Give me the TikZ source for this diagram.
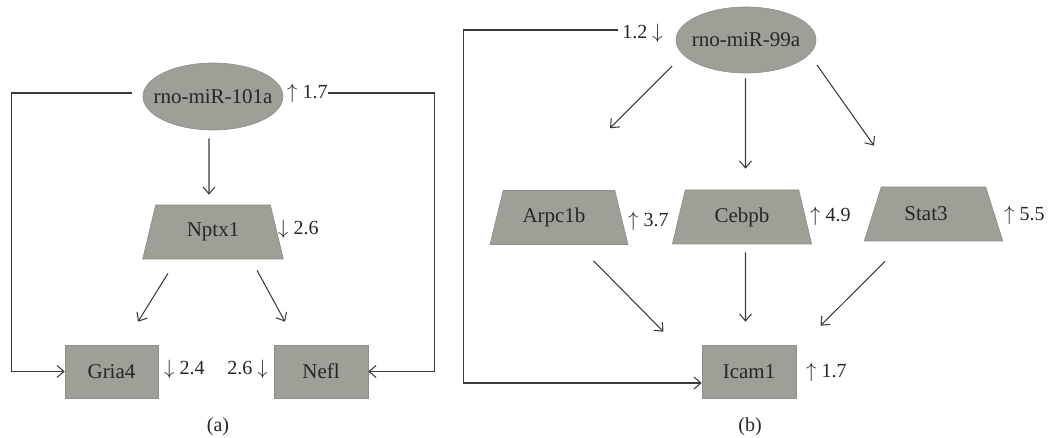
\documentclass[tikz,border=0pt]{standalone}
\usepackage{fontspec}
\setmainfont{Liberation Serif}
\usetikzlibrary{shapes.geometric,arrows.meta}
\definecolor{boxfill}{HTML}{9F9E97}
\definecolor{boxedge}{HTML}{8E8D87}
\definecolor{wire}{HTML}{3A3A3A}
\definecolor{ink}{HTML}{262626}
\begin{document}
\begin{tikzpicture}[x=1pt,y=-1pt,
  every node/.style={text=ink},
  gene/.style={draw=boxedge, fill=boxfill, line width=0.6pt,
    font=\fontsize{21}{25}\selectfont, inner sep=0pt},
  mirna/.style={gene, ellipse},
  target/.style={gene, trapezium, trapezium angle=72,
    trapezium stretches=true, minimum height=54pt},
  hub/.style={gene, rectangle, minimum height=53pt},
  fold/.style={inner sep=0pt, font=\fontsize{20}{24}\selectfont},
  wireline/.style={draw=wire, line width=1.05pt},
  arr/.style={wireline, -{Straight Barb[length=7pt,width=12pt]}},
  caption/.style={inner sep=0pt, font=\fontsize{20}{24}\selectfont}
]
\useasboundingbox (0,0) rectangle (1051,438);

% ---------- panel (a): rno-miR-101a ----------
\node[mirna, minimum width=140pt, minimum height=67pt] (mir101) at (213,96.5) {\makebox[0pt]{rno-miR-101a}};
\node[target, minimum width=141pt] (nptx) at (213,232) {Nptx1};
\node[hub, minimum width=93pt] (gria) at (111.5,371.5) {Gria4};
\node[hub, minimum width=94pt] (nefl) at (321,371.5) {\raisebox{-4pt}{Nefl}};

\node[fold, anchor=west] (f101) at (287,93) {$\uparrow$ 1.7};
\node[fold, anchor=west] (fnptx) at (278,229) {$\downarrow$ 2.6};
\node[fold, anchor=west] (fgria) at (164,369.5) {$\downarrow$ 2.4};
\node[fold, anchor=east] (fnefl) at (268,369.5) {2.6 $\downarrow$};

\draw[arr] ([xshift=-4pt,yshift=-8pt]mir101.south) -- ([xshift=-4pt,yshift=10pt]nptx.north);
\draw[arr] ([xshift=-45pt,yshift=-14pt]nptx.south) -- ([xshift=26.5pt,yshift=23pt]gria.north);
\draw[arr] ([xshift=44pt,yshift=-11pt]nptx.south) -- ([xshift=-36pt,yshift=23pt]nefl.north);
\draw[arr] ([xshift=-11pt,yshift=3.5pt]mir101.west) -- ++(-120pt,0) |- (gria.west);
\draw[arr] (f101.east) -- ++(107pt,0) |- (nefl.east);

\node[caption] (capa) at (218,427) {(a)};

% ---------- panel (b): rno-miR-99a ----------
\node[mirna, minimum width=140pt, minimum height=66pt] (mir99) at (746,40) {\makebox[0pt]{rno-miR-99a}};
\node[target, minimum width=138pt] (arpc) at (559,217.5) {\hspace*{-10pt}Arpc1b};
\node[target, minimum width=140pt] (ceb) at (742,217) {Cebpb};
\node[target, minimum width=139pt] (stat) at (933.5,214) {\hspace*{-15pt}Stat3};
\node[hub, minimum width=94pt] (icam) at (749,371.5) {Icam1};

\node[fold, anchor=east] (f99) at (663,33) {1.2 $\downarrow$};
\node[fold, anchor=west] (farpc) at (628,221) {$\uparrow$ 3.7};
\node[fold, anchor=west] (fceb) at (810,216) {$\uparrow$ 4.9};
\node[fold, anchor=west] (fstat) at (1004,215) {$\uparrow$ 5.5};
\node[fold, anchor=west] (ficam) at (806,372) {$\uparrow$ 1.7};

\draw[arr] ([xshift=-74pt,yshift=-26pt]mir99.center) -- ([xshift=51pt,yshift=62pt]arpc.north);
\draw[arr] ([xshift=-0.5pt,yshift=-5pt]mir99.south) -- ([xshift=3.5pt,yshift=21pt]ceb.north);
\draw[arr] ([xshift=71pt,yshift=-25pt]mir99.center) -- ([xshift=-59.5pt,yshift=41pt]stat.north);

\draw[arr] ([xshift=34.5pt,yshift=-16pt]arpc.south) -- ([xshift=-85.5pt,yshift=13pt]icam.north);
\draw[arr] ([xshift=3.5pt,yshift=-8pt]ceb.south) -- ([xshift=-3.5pt,yshift=23pt]icam.north);
\draw[arr] ([xshift=-48.5pt,yshift=-20pt]stat.south) -- ([xshift=71.5pt,yshift=19pt]icam.north);

\draw[arr] ([xshift=-4pt,yshift=3pt]f99.west) -- ++(-155pt,0) |- ([yshift=-11.5pt]icam.west);

\node[caption] (capb) at (750,427) {(b)};
\end{tikzpicture}
\end{document}
